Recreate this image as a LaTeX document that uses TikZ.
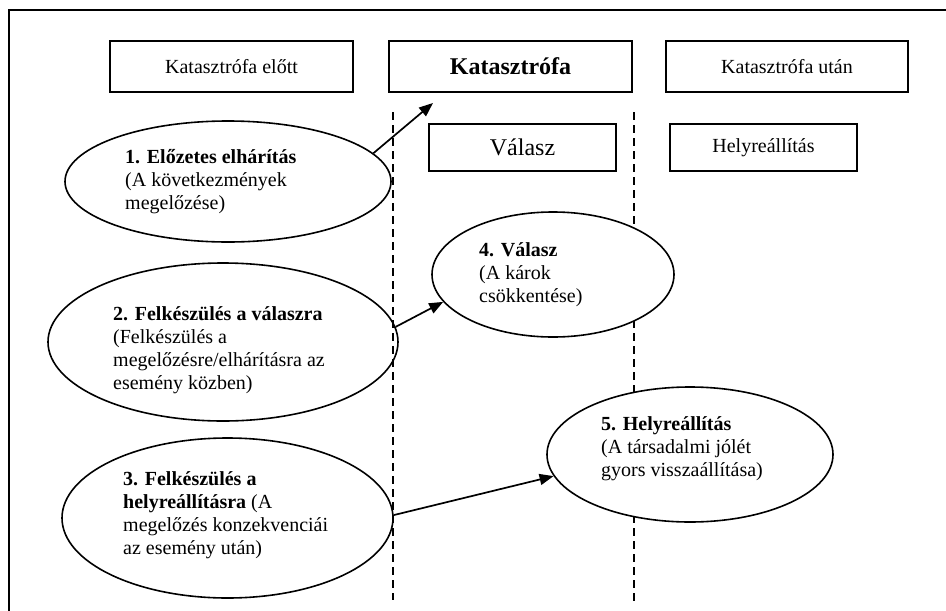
\documentclass[tikz,border=0pt]{standalone}
\usepackage{fontspec}
\setmainfont{Liberation Serif}
\usetikzlibrary{shapes.geometric,arrows.meta}
\tikzset{
  hdrbox/.style={draw, line width=2pt, rectangle, inner sep=0pt, font=\fontsize{20}{23}\selectfont},
  bigbox/.style={hdrbox, font=\fontsize{24}{27}\selectfont},
  oval/.style={draw, line width=1.6pt, ellipse, inner sep=0pt},
  ovalw/.style={oval, fill=white},
  otext/.style={align=left, anchor=west, inner sep=0pt, font=\fontsize{20}{23}\selectfont},
  sep/.style={line width=2pt, dash pattern=on 8pt off 5pt},
  arr/.style={line width=1.7pt, -{Triangle[length=14pt,width=11pt]}},
  frame/.style={line width=1.4pt}
}
\begin{document}
\begin{tikzpicture}[x=1pt,y=-1pt]
\useasboundingbox (0,0) rectangle (946,611);
% frame
\coordinate (fbl) at (9,611);
\coordinate (ftl) at (9,10);
\coordinate (ftr) at (946,10);
\draw[frame] (fbl) -- (ftl) -- (ftr);
% header boxes
\node[hdrbox, minimum width=243pt, minimum height=51pt] (b1) at (231.5,66.5) {Katasztrófa előtt};
\node[bigbox, minimum width=243pt, minimum height=51pt] (b2) at (510.5,66.5) {\textbf{Katasztrófa}};
\node[hdrbox, minimum width=242pt, minimum height=51pt] (b3) at (787,66.5) {Katasztrófa után};
\node[bigbox, minimum width=187pt, minimum height=47pt] (b4) at (522.5,147.5) {Válasz};
\node[hdrbox, minimum width=187pt, minimum height=47pt] (b5) at (763.5,147.5) {Helyreállítás};
% dashed separators
\coordinate (s1t) at (393,112);
\coordinate (s1b) at (393,600);
\coordinate (s2t) at (634,112);
\coordinate (s2b) at (634,602);
\draw[sep] (s1t) -- (s1b);
\draw[sep] (s2t) -- (s2b);
% ellipses
\node[oval, minimum width=326pt, minimum height=121pt] (e1) at (228,181.5) {};
\node[oval, minimum width=350pt, minimum height=158pt] (e2) at (223,342) {};
\node[oval, minimum width=331pt, minimum height=160pt] (e3) at (227.5,518) {};
\node[ovalw, minimum width=242pt, minimum height=125pt] (e4) at (553,274.5) {};
\node[ovalw, minimum width=286pt, minimum height=135pt] (e5) at (690,454.5) {};
% texts
\node[otext] (t1) at (125,181.5) {\textbf{1. Előzetes elhárítás}\\(A következmények\\megelőzése)};
\node[otext] (t2) at (113,350) {\textbf{2. Felkészülés a válaszra}\\(Felkészülés a\\megelőzésre/elhárításra az\\esemény közben)};
\node[otext] (t3) at (123,515) {\textbf{3. Felkészülés a}\\\textbf{helyreállításra} (A\\megelőzés konzekvenciái\\az esemény után)};
\node[otext] (t4) at (479,275) {\textbf{4. Válasz}\\(A károk\\csökkentése)};
\node[otext] (t5) at (601,448.5) {\textbf{5. Helyreállítás}\\(A társadalmi jólét\\gyors visszaállítása)};
% arrows
\coordinate (a1end) at (433,103);
\draw[arr] (e1.11.7) -- (a1end);
\draw[arr] (e2.5.6) -- (e4.194.8);
\draw[arr] (e3.1) -- (e5.189.4);
\end{tikzpicture}
\end{document}
